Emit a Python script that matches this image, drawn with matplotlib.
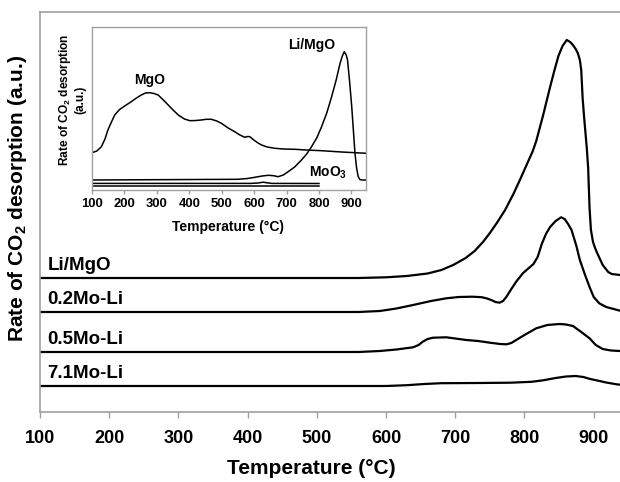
import matplotlib
matplotlib.use("Agg")
import matplotlib.pyplot as plt

plt.rcParams['font.family'] = ['Liberation Sans', 'DejaVu Sans']
plt.rcParams['font.weight'] = 'bold'
plt.rcParams['mathtext.fontset'] = 'custom'
plt.rcParams['mathtext.rm'] = 'Liberation Sans:bold'
plt.rcParams['mathtext.bf'] = 'Liberation Sans:bold'
plt.rcParams['mathtext.default'] = 'bf'

# main plot: TPD curves, stacked on their own baselines
names = ['Li/MgO', '0.2Mo-Li', '0.5Mo-Li', '7.1Mo-Li']
offsets = [134, 100, 60, 26]

t_limgo = [100, 560, 600, 630, 660, 680, 697, 715, 728, 740, 750, 760, 772, 784, 794,
           803, 812, 817, 822, 827, 832, 837, 843, 849, 855, 861, 866, 870, 874, 877,
           880, 882, 884, 886, 888, 890, 892, 894, 896, 899, 902, 905, 909, 913,
           917, 921, 926, 938]
y_limgo = [0, 0, 0.7, 2, 4.5, 8, 13, 20, 27, 36, 45, 55, 68, 84, 99,
           113, 127, 137, 150, 163, 177, 191, 207, 222, 232, 238, 236, 233, 229, 225,
           218, 208, 180, 162, 146, 130, 110, 70, 48, 36, 30, 25, 19, 13,
           9.5, 6, 4, 3]

t_02 = [100, 560, 591, 615, 639, 665, 687, 705, 725, 738, 745, 752, 758, 764, 769,
        774, 781, 788, 798, 808, 813, 819, 825, 831, 837, 845, 853, 858, 863, 868,
        875, 880, 887, 894, 900, 908, 918, 938]
y_02 = [0, 0, 1, 3.5, 7, 11, 13.7, 15, 15.3, 14.8, 13.7, 12, 10, 9.3, 11,
        15.3, 23, 30.3, 39, 45, 48, 55, 68, 78, 85, 91, 94.7, 93, 88, 82,
        66, 52, 38, 25, 15, 8.7, 5, 1.3]

t_05 = [100, 560, 591, 615, 639, 647, 653, 660, 668, 687, 700, 716, 733, 750, 765,
        774, 781, 788, 800, 817, 833, 851, 860, 870, 882, 894, 903, 913, 925, 938]
y_05 = [0, 0, 1, 2.5, 4.7, 7, 10.3, 13, 14.3, 14.7, 13.5, 12, 11, 9.3, 8,
        7.7, 9, 12, 17, 23.7, 27, 28, 27.5, 26, 20, 13.7, 7, 3, 1.5, 1]

t_71 = [100, 600, 630, 655, 680, 735, 780, 810, 827, 845, 860, 874, 885, 895, 904,
        918, 933, 938]
y_71 = [0, 0, 0.8, 2, 2.8, 3, 3.3, 4.2, 5.7, 8, 9.5, 10, 9, 7, 5.7,
        3.5, 1.7, 1.3]

# inset curves
t_mgo = [100, 115, 129, 140, 149, 160, 170, 185, 201, 221, 237, 252, 265, 278, 291,
         304, 320, 335, 350, 366, 385, 402, 420, 437, 452, 468, 485, 499, 520, 540,
         556, 571, 580, 587, 595, 602, 612, 623, 640, 664, 690, 726, 760, 808, 870, 947]
y_mgo = [37.3, 39, 43.3, 51, 60, 68, 75, 80.5, 84, 88.3, 92, 95, 97, 97.3, 96.5,
         95, 90, 85, 80, 75, 71, 69.3, 69.5, 70, 70.7, 70.7, 69, 66.7, 62, 58.3,
         55, 52.7, 53.5, 53.3, 51, 49.3, 47, 45, 43, 41.7, 41, 40.7, 40, 39.3, 38, 36.7]

t_in_li = [100, 549, 580, 602, 625, 644, 660, 674, 690, 705, 725, 746, 762, 777, 793,
           808, 824, 839, 853, 865, 872, 878, 884, 888, 894, 901, 906, 911, 916, 921,
           926, 932, 947]
y_in_li = [10, 10.7, 11.5, 12.7, 14, 14.7, 14.3, 13.3, 15, 18.3, 23, 30, 36, 43.3, 52,
           63.3, 77, 93.3, 110, 126.7, 134, 138.3, 135, 130, 110, 83.3, 60, 36.7, 22, 13.3,
           10.5, 10, 10]

t_moo3 = [100, 590, 612, 628, 640, 655, 800]
y_moo3 = [6.6, 6.6, 7, 7.8, 7.2, 6.6, 6.5]
t_base = [100, 800]
y_base = [4.2, 4.2]

grey = '#a0a0a0'

fig = plt.figure(figsize=(6.2, 4.82), dpi=100)
ax = fig.add_axes([40 / 620, 70 / 482, 580 / 620, 400.3 / 482])

curves = [(t_limgo, y_limgo), (t_02, y_02), (t_05, y_05), (t_71, y_71)]
for (t, y), off, name in zip(curves, offsets, names):
    ax.plot(t, [v + off for v in y], color='black', lw=1.6)
    ax.text(111, off + 13, name, fontsize=13.5, fontweight='bold', va='center')

ax.set_xlim(100, 938)
ax.set_ylim(0, 400.3)
ax.set_xticks(range(100, 901, 100))
ax.set_yticks([])
ax.tick_params(axis='x', direction='out', length=4, width=1, color=grey,
               labelsize=13, pad=9)
for lab in ax.get_xticklabels():
    lab.set_fontweight('bold')
for s in ['left', 'bottom', 'top']:
    ax.spines[s].set_color(grey)
    ax.spines[s].set_linewidth(1.2)
ax.spines['right'].set_visible(False)

fig.text(311 / 620, (482 - 468) / 482, 'Temperature (°C)', fontsize=15,
         fontweight='bold', ha='center', va='center')
fig.text(18 / 620, (482 - 198) / 482, 'Rate of CO$_2$ desorption (a.u.)', fontsize=15,
         fontweight='bold', ha='center', va='center', rotation=90)

# inset
ins = fig.add_axes([92 / 620, 292 / 482, 274 / 620, 163.3 / 482])
ins.plot(t_mgo, y_mgo, color='black', lw=1.1)
ins.plot(t_in_li, y_in_li, color='black', lw=1.1)
ins.plot(t_moo3, y_moo3, color='black', lw=1.1)
ins.plot(t_base, y_base, color='black', lw=1.1)
ins.text(278, 110, 'MgO', fontsize=10, fontweight='bold', ha='center', va='center')
ins.text(777, 145, 'Li/MgO', fontsize=10, fontweight='bold', ha='center', va='center')
ins.text(828, 17, 'MoO$_3$', fontsize=10, fontweight='bold', ha='center', va='center')
ins.set_xlim(100, 945)
ins.set_ylim(0, 163.3)
ins.set_xticks(range(100, 901, 100))
ins.set_yticks([])
ins.tick_params(axis='x', direction='out', length=3, width=1, color=grey,
                labelsize=9.4, pad=3)
for lab in ins.get_xticklabels():
    lab.set_fontweight('bold')
for s in ins.spines.values():
    s.set_color(grey)
    s.set_linewidth(1.0)
ins.text(0.495, -0.228, 'Temperature (°C)', transform=ins.transAxes, fontsize=10,
         fontweight='bold', ha='center', va='center')
ins.text(-0.074, 0.55, 'Rate of CO$_2$ desorption\n(a.u.)', transform=ins.transAxes,
         fontsize=8.6, fontweight='bold', ha='center', va='center', rotation=90,
         linespacing=1.1)

fig.savefig('out.png', dpi=100)
